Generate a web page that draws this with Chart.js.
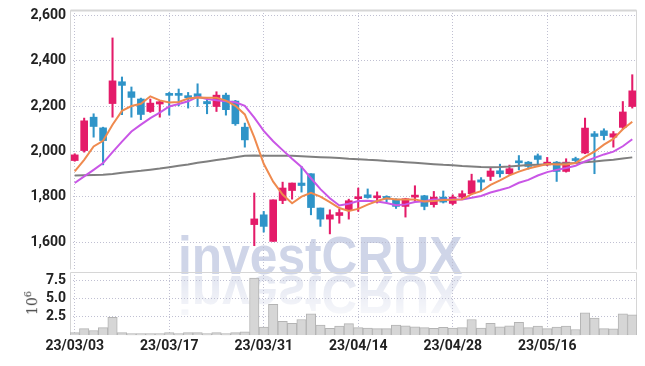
<!DOCTYPE html>
<html>
<head>
<meta charset="utf-8">
<script src="https://cdn.jsdelivr.net/npm/chart.js@4.4.0/dist/chart.umd.min.js"></script>
<style>
  html, body { margin: 0; padding: 0; background: #fff; }
  #wrap { position: relative; width: 645px; height: 366px; overflow: hidden; }
  canvas { position: absolute; left: 0; }
  #price { top: 0; }
  #volume { top: 266px; }
  .wm { position: absolute; left: 178px; top: 228px; font: bold 54px 'Liberation Sans', Arial, sans-serif;
        line-height: 54px; color: #cfd5e8; white-space: nowrap; transform-origin: 0 0; transform: scaleX(0.92); }
  .wm.flip { transform-origin: 0 47px; transform: scale(0.92, -1); color: #dde1ee;
        -webkit-mask-image: linear-gradient(to bottom, rgba(0,0,0,0.15), rgba(0,0,0,0.95)); }
  #unit { position: absolute; left: 31px; top: 303px; transform: translate(-50%, -50%) rotate(-90deg);
        font: 14px 'DejaVu Serif', serif; color: #444; white-space: nowrap; }
  #unit sup { font-size: 10px; }
</style>
</head>
<body>
<div id="wrap">
  <div class="wm">investCRUX</div>
  <div class="wm flip">investCRUX</div>
  <canvas id="price" width="645" height="272"></canvas>
  <canvas id="volume" width="645" height="100"></canvas>
  <div id="unit">10<sup>6</sup></div>
</div>
<script>
// trading days, yy/mm/dd
const dates = ['23/03/03','23/03/06','23/03/07','23/03/08','23/03/09','23/03/10','23/03/13','23/03/14','23/03/15','23/03/16',
  '23/03/17','23/03/20','23/03/21','23/03/22','23/03/23','23/03/24','23/03/27','23/03/28','23/03/29','23/03/30',
  '23/03/31','23/04/03','23/04/04','23/04/05','23/04/06','23/04/07','23/04/10','23/04/11','23/04/12','23/04/13',
  '23/04/14','23/04/17','23/04/18','23/04/19','23/04/20','23/04/21','23/04/24','23/04/25','23/04/26','23/04/27',
  '23/04/28','23/05/02','23/05/03','23/05/04','23/05/08','23/05/09','23/05/10','23/05/11','23/05/12','23/05/15',
  '23/05/16','23/05/17','23/05/18','23/05/19','23/05/22','23/05/23','23/05/24','23/05/25','23/05/26','23/05/30'];

const opens = [1960,2004,2151,2104,2211,2307,2263,2231,2176,2209, 2254,2250,2240,2254,2220,2198,2248,2222,2107,1678,
  1721,1604,1784,1828,1861,1902,1751,1702,1718,1743, 1792,1809,1796,1802,1790,1758,1799,1805,1766,1799,
  1771,1799,1814,1875,1890,1915,1902,1956,1953,1981, 1941,1953,1912,1965,1993,2078,2091,2063,2106,2198];
const highs = [1990,2147,2166,2107,2500,2328,2284,2235,2231,2225, 2260,2275,2260,2298,2235,2263,2257,2225,2125,1817,
  1736,1787,1865,1861,1934,1902,1751,1743,1746,1790, 1839,1835,1822,1805,1792,1794,1849,1807,1824,1826,
  1809,1827,1900,1885,1927,1944,1940,1982,1956,1989, 1974,1956,1968,1975,2147,2088,2100,2088,2220,2338];
const lows = [1957,1997,2063,1941,2151,2162,2151,2140,2172,2151, 2160,2201,2191,2198,2166,2176,2160,2115,2019,1585,
  1645,1604,1770,1790,1821,1721,1670,1637,1684,1702, 1736,1794,1773,1777,1749,1711,1780,1743,1755,1773,
  1765,1792,1812,1828,1872,1887,1899,1919,1922,1941, 1937,1868,1909,1949,1990,1902,2051,2019,2098,2191];
const closes = [1985,2135,2110,2048,2311,2291,2238,2163,2213,2219, 2247,2247,2237,2242,2210,2248,2184,2122,2051,1703,
  1670,1787,1839,1861,1850,1753,1702,1721,1731,1783, 1796,1797,1803,1790,1758,1792,1803,1758,1799,1777,
  1799,1814,1871,1865,1914,1902,1924,1950,1934,1965, 1953,1912,1953,1960,2103,2066,2070,2078,2174,2267];

// moving average lines
const ma5 = [1912,1963,2022,2047,2118,2179,2200,2210,2243,2225, 2216,2218,2233,2238,2237,2237,2224,2201,2163,2062,
  1946,1867,1810,1772,1801,1818,1801,1777,1751,1738, 1747,1766,1782,1794,1789,1788,1789,1780,1782,1786,
  1787,1789,1812,1825,1853,1873,1895,1911,1925,1935, 1945,1943,1943,1949,1976,1999,2030,2055,2098,2131];
const ma10 = [1861,1890,1919,1949,1997,2043,2088,2118,2147,2171, 2198,2209,2221,2241,2231,2226,2221,2217,2201,2149,
  2091,2045,2006,1968,1932,1882,1834,1794,1762,1770, 1782,1783,1780,1773,1763,1767,1777,1781,1788,1787,
  1788,1789,1796,1804,1819,1830,1842,1862,1875,1894, 1909,1919,1927,1937,1956,1972,1987,1999,2023,2054];
const ma60 = [1894,1895,1896,1897,1901,1906,1911,1915,1920,1925, 1931,1937,1943,1950,1956,1962,1968,1975,1981,1982,
  1981,1981,1981,1981,1979,1977,1975,1973,1971,1968, 1966,1963,1961,1958,1956,1953,1950,1947,1944,1941,
  1939,1936,1934,1932,1931,1932,1934,1937,1940,1942, 1944,1946,1948,1949,1952,1956,1960,1964,1969,1974];

// volume, millions
const volumes = [0.34,0.9,0.64,1.03,2.44,0.34,0.21,0.21,0.21,0.21, 0.34,0.21,0.34,0.34,0.21,0.34,0.21,0.34,0.47,7.75,
  1.11,4.19,1.88,1.62,2.14,2.91,1.37,0.94,1.24,1.58, 1.03,0.98,0.9,0.9,1.37,1.28,1.15,1.03,0.94,1.07,
  0.98,1.03,2.14,0.98,1.62,1.15,1.28,1.75,1.03,1.24, 0.9,1.11,1.24,0.77,3.03,2.31,0.9,0.86,2.91,2.78];

const priceTicks = [1600, 1800, 2000, 2200, 2400, 2600];
const volumeTicks = [2.5, 5.0, 7.5];

const upColor = '#e41b69';
const downColor = '#2f94c8';
const gridColor = 'rgba(185,185,205,0.9)';
const tickFont = { family: "Roboto, 'Liberation Sans', sans-serif", size: 14, weight: 'bold' };

const candleColors = opens.map((o, i) => closes[i] >= o ? upColor : downColor);

// frame around the plot area
const boxPlugin = {
  id: 'box',
  beforeDatasetsDraw(chart, args, opts) {
    const a = chart.chartArea;
    const ctx = chart.ctx;
    ctx.save();
    ctx.strokeStyle = '#d6d6d6';
    ctx.lineWidth = 1;
    ctx.beginPath();
    const l = Math.round(a.left) + 0.5, r = Math.round(a.right) - 0.5;
    const t = Math.round(a.top) + 0.5, b = Math.round(a.bottom) - 0.5;
    ctx.moveTo(l, b); ctx.lineTo(l, t); ctx.lineTo(r, t); ctx.lineTo(r, b);
    if (opts.bottom) ctx.lineTo(l, b);
    ctx.stroke();
    if (opts.thickTop) {
      ctx.lineWidth = 2;
      ctx.beginPath(); ctx.moveTo(l, t); ctx.lineTo(r, t); ctx.stroke();
    }
    ctx.restore();
  }
};

const xGrid = {
  offset: false,
  drawTicks: false,
  color: ctx => ctx.index % 10 === 0 ? gridColor : 'transparent'
};

// keep the plot exactly inside the layout padding
const fixY = s => { s.width = 70; s.paddingTop = 0; s.paddingBottom = 0; };

new Chart(document.getElementById('price'), {
  type: 'bar',
  data: {
    labels: dates,
    datasets: [
      { type: 'line', data: ma5, borderColor: '#ef8a4e', borderWidth: 2, pointRadius: 0, order: 0 },
      { type: 'line', data: ma10, borderColor: '#c956e6', borderWidth: 2, pointRadius: 0, order: 1 },
      { type: 'line', data: ma60, borderColor: '#7f7f7f', borderWidth: 2, pointRadius: 0, order: 2 },
      { data: opens.map((o, i) => [o, closes[i]]), backgroundColor: candleColors, barThickness: 7,
        minBarLength: 2, grouped: false, order: 3 },
      { data: lows.map((l, i) => [l, highs[i]]), backgroundColor: candleColors, barThickness: 1.4,
        grouped: false, order: 4 }
    ]
  },
  options: {
    responsive: false,
    animation: false,
    devicePixelRatio: 1,
    layout: { padding: { top: 10, right: 8, bottom: 2, left: 0 } },
    plugins: { legend: { display: false }, tooltip: { enabled: false }, box: { thickTop: true } },
    scales: {
      x: { offset: true, grid: xGrid, border: { display: false, dash: [1, 2] }, ticks: { display: false } },
      y: {
        min: 1478, max: 2623,
        afterBuildTicks: s => { s.ticks = priceTicks.map(v => ({ value: v })); },
        afterFit: fixY,
        grid: { drawTicks: false, color: gridColor },
        border: { display: false, dash: [1, 2] },
        ticks: { padding: 4, color: '#222', font: tickFont, callback: v => v.toLocaleString('en-US') }
      }
    }
  },
  plugins: [boxPlugin]
});

new Chart(document.getElementById('volume'), {
  type: 'bar',
  data: {
    labels: dates,
    datasets: [{
      data: volumes, backgroundColor: '#d6d6d6', borderColor: '#b4b4b4', borderWidth: 1,
      barPercentage: 1, categoryPercentage: 1
    }]
  },
  options: {
    responsive: false,
    animation: false,
    devicePixelRatio: 1,
    layout: { padding: { top: 6, right: 8, bottom: 8, left: 0 } },
    plugins: { legend: { display: false }, tooltip: { enabled: false }, box: { bottom: true } },
    scales: {
      x: {
        offset: true, grid: xGrid, border: { display: false, dash: [1, 2] },
        ticks: { autoSkip: false, maxRotation: 0, minRotation: 0, padding: 3, color: '#222', font: tickFont,
          callback: (v, i) => i % 10 === 0 ? dates[i] : '' }
      },
      y: {
        min: 0, max: 8.59,
        afterBuildTicks: s => { s.ticks = volumeTicks.map(v => ({ value: v })); },
        afterFit: fixY,
        grid: { drawTicks: false, color: gridColor },
        border: { display: false, dash: [1, 2] },
        ticks: { padding: 4, color: '#222', font: tickFont, callback: v => v.toFixed(1) }
      }
    }
  },
  plugins: [boxPlugin]
});
</script>
</body>
</html>
